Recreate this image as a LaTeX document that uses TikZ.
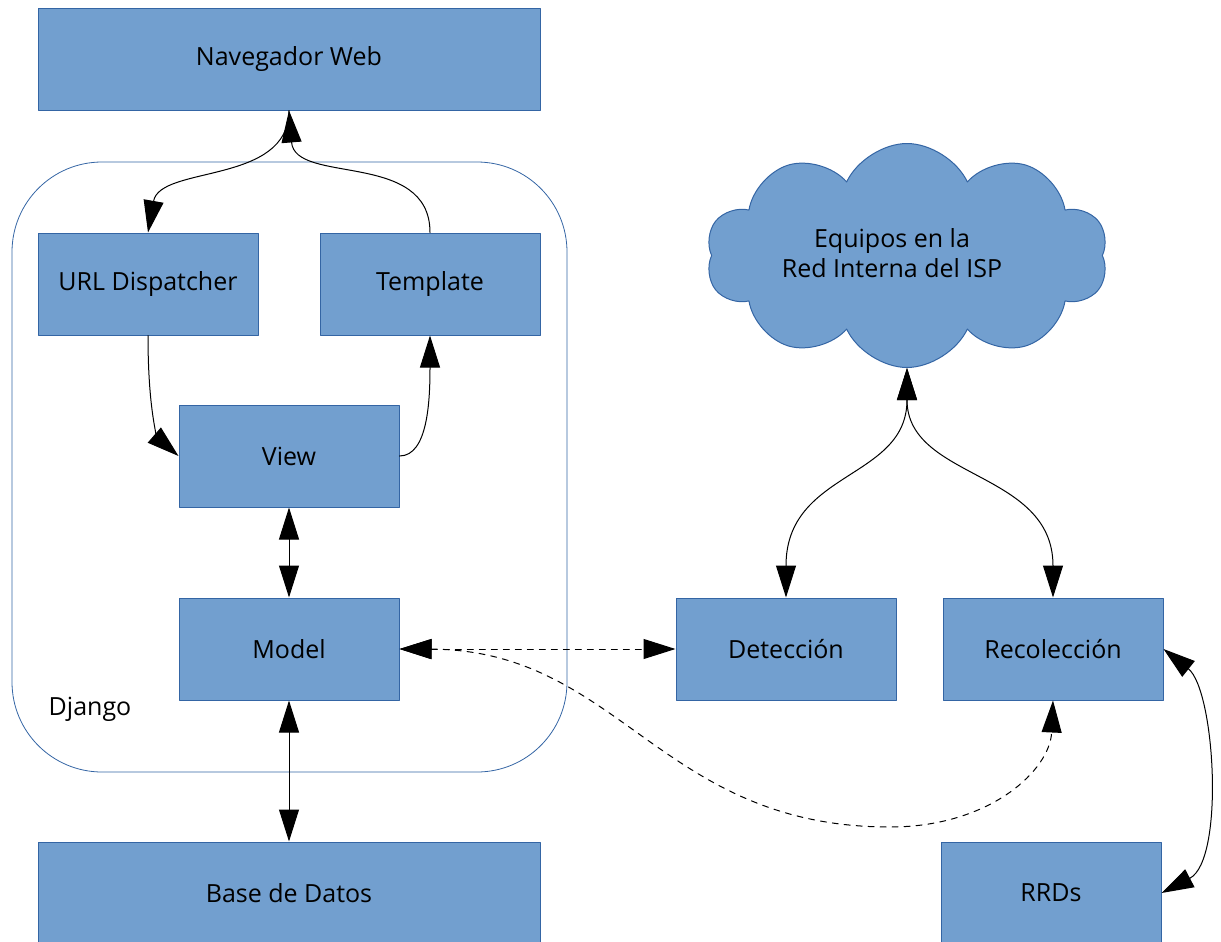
\documentclass[tikz,border=0pt]{standalone}
\usepackage{fontspec}
\setmainfont{Open Sans}
\usetikzlibrary{arrows.meta,shapes.symbols}
\definecolor{cajaazul}{HTML}{729FCF}
\definecolor{bordeazul}{HTML}{3465A4}
\begin{document}
\begin{tikzpicture}[x=0.5pt,y=-0.5pt,line cap=round,line join=round,>={Triangle[length=16pt,width=10pt]},
    bloque/.style={draw=bordeazul,fill=cajaazul,line width=0.5pt,inner sep=0pt,
      minimum width=110pt,minimum height=51pt,font=\fontsize{12.5}{15}\selectfont},
    nube/.style={cloud,cloud puffs=10,cloud puff arc=130,aspect=1.8,draw=bordeazul,fill=cajaazul,
      line width=0.5pt,inner sep=0pt,minimum width=201pt,minimum height=112pt},
    grupo/.style={draw=bordeazul,line width=0.4pt,rounded corners=45pt,inner sep=0pt},
    texto/.style={inner sep=1pt,font=\fontsize{12.5}{15}\selectfont},
    flecha/.style={line width=0.5pt}]
  \useasboundingbox (0,0) rectangle (1221,942);
  \node[grupo,minimum width=277.5pt,minimum height=305pt] (django) at (289.5,467) {};
  \node[texto] (djlbl) at (90,709) {Django};
  \node[bloque,minimum width=251pt] (nav) at (289,59) {Navegador Web};
  \node[bloque] (url) at (148,284) {URL Dispatcher};
  \node[bloque] (tpl) at (430,284) {Template};
  \node[bloque] (view) at (289,456) {View};
  \node[bloque] (model) at (289,649) {Model};
  \node[bloque,minimum width=251pt] (bd) at (289,893) {Base de Datos};
  \node[nube] (isp) at (907,255.5) {};
  \node[texto,align=center] (isptxt) at (892,253) {Equipos en la\\Red Interna del ISP};
  \node[bloque] (det) at (786,649) {Detección};
  \node[bloque] (rec) at (1053,649) {Recolección};
  \node[bloque] (rrd) at (1051,893) {RRDs};
  \coordinate (bajo) at (890,827);
  \coordinate (ispbase) at (907,368);
  \draw[flecha,->] (nav.south) .. controls (289,185) and (160,165) .. (url.north);
  \draw[flecha,->] (tpl.north) .. controls (430,150) and (295,185) .. (nav.south);
  \draw[flecha,->] (url.south) .. controls (148,420) and (160,440) .. (view.west);
  \draw[flecha,->] (view.east) .. controls (428,456) and (430,400) .. (tpl.south);
  \draw[flecha,<->] (view) -- (model);
  \draw[flecha,<->] (model) -- (bd);
  \draw[flecha,dashed,<->] (model) -- (det);
  \draw[flecha,dashed,<->] (model.east) .. controls (620,650) and (660,827) .. (bajo)
    .. controls (990,827) and (1050,770) .. (rec.south);
  \draw[flecha,<->] (ispbase) .. controls (907,480) and (786,470) .. (det.north);
  \draw[flecha,<->] (ispbase) .. controls (907,480) and (1053,470) .. (rec.north);
  \draw[flecha,<->] (rec.east) .. controls (1215,690) and (1225,860) .. (rrd.east);
\end{tikzpicture}
\end{document}
